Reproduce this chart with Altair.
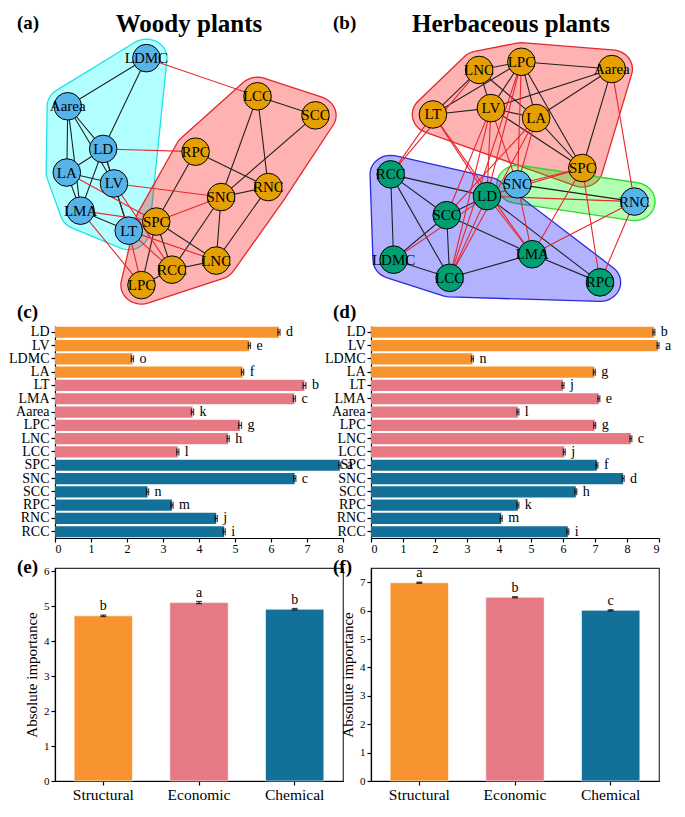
import math
import altair as alt
import pandas as pd

SERIF = "Liberation Serif"

# ---------------- network (a) woody plants ----------------
a_nodes = ["LDMC", "Aarea", "LD", "LA", "LV", "LMA", "LT", "SPC",
           "LCC", "SCC", "RPC", "SNC", "RNC", "LNC", "RCC", "LPC"]
a_x = [137, 57, 93, 56, 104, 70, 119, 147, 250, 309, 187, 213, 261, 208, 163, 132]
a_y = [50, 103, 150, 176, 188, 218, 240, 230, 92, 113, 153, 203, 192, 273, 283, 300]
a_group = ["A", "A", "A", "A", "A", "A", "A", "B",
           "B", "B", "B", "B", "B", "B", "B", "B"]
a_pos = [("LDMC", "Aarea"), ("LDMC", "LD"), ("Aarea", "LD"), ("Aarea", "LA"), ("Aarea", "LV"),
         ("Aarea", "LMA"), ("LD", "LA"), ("LD", "LV"), ("LD", "LMA"), ("LD", "LT"),
         ("LA", "LV"), ("LA", "LMA"), ("LV", "LT"), ("LMA", "LT"),
         ("LCC", "SCC"), ("LCC", "SNC"), ("LCC", "RNC"), ("SCC", "SNC"), ("RPC", "RNC"),
         ("RPC", "SPC"), ("SNC", "RNC"), ("SNC", "LNC"), ("SNC", "RCC"), ("RNC", "LNC"),
         ("SPC", "RCC"), ("SPC", "LPC"), ("SPC", "LNC"), ("RCC", "LNC"), ("RCC", "LPC")]
a_neg = [("LDMC", "LCC"), ("LD", "RPC"), ("LV", "SNC"), ("LA", "SPC"), ("LV", "RCC"),
         ("LMA", "SPC"), ("LMA", "LPC"), ("LT", "LPC"), ("LT", "RCC"), ("LT", "LNC"),
         ("SPC", "SNC")]

# ---------------- network (b) herbaceous plants ----------------
b_nodes = ["LNC", "LPC", "Aarea", "LT", "LV", "LA", "SPC", "RCC",
           "SNC", "LD", "RNC", "SCC", "LDMC", "LMA", "LCC", "RPC"]
b_x = [490, 533, 625, 443, 502, 548, 595, 400, 529, 498, 648, 457, 403, 544, 460, 613]
b_y = [63, 54, 62, 112, 105, 116, 171, 178, 189, 202, 208, 223, 272, 266, 292, 297]
b_group = ["B", "B", "B", "B", "B", "B", "B", "C",
           "A", "C", "A", "C", "C", "C", "C", "C"]
b_pos = [("LNC", "LPC"), ("LNC", "LT"), ("LNC", "LV"), ("LNC", "LA"), ("LPC", "Aarea"),
         ("LPC", "LT"), ("LPC", "LV"), ("LPC", "LA"), ("LPC", "SPC"), ("LT", "LV"),
         ("LV", "LA"), ("LV", "Aarea"), ("LV", "SPC"), ("LA", "Aarea"), ("LA", "SPC"),
         ("Aarea", "SPC"), ("SNC", "RNC"), ("RCC", "LD"), ("RCC", "SCC"), ("RCC", "LDMC"),
         ("RCC", "LCC"), ("SCC", "LD"), ("SCC", "LCC"), ("SCC", "LMA"), ("SCC", "LDMC"),
         ("LDMC", "LCC"), ("LCC", "LMA"), ("LMA", "RPC"), ("LD", "RPC")]
b_neg = [("LT", "RCC"), ("LNC", "RCC"), ("LT", "LD"), ("LV", "SCC"), ("LV", "LD"),
         ("LV", "SNC"), ("LV", "LCC"), ("LPC", "SNC"), ("LPC", "LD"), ("LPC", "LCC"),
         ("LA", "SNC"), ("LA", "SCC"), ("LA", "LCC"), ("SPC", "SNC"), ("SPC", "LD"),
         ("SPC", "LMA"), ("SPC", "RPC"), ("Aarea", "RNC"), ("LD", "RNC"), ("SNC", "LMA"),
         ("RNC", "LMA"), ("RNC", "RPC"), ("LD", "LDMC"), ("LD", "LMA"), ("LD", "LCC"),
         ("LT", "LMA")]

# ---------------- trait importance (c), (d) ----------------
traits = ["LD", "LV", "LDMC", "LA", "LT", "LMA", "Aarea", "LPC", "LNC", "LCC",
          "SPC", "SNC", "SCC", "RPC", "RNC", "RCC"]
trait_type = ["Structural"] * 4 + ["Economic"] * 6 + ["Chemical"] * 6
c_values = [6.22, 5.40, 2.15, 5.21, 6.93, 6.65, 3.82, 5.14, 4.81, 3.41,
            7.91, 6.66, 2.57, 3.25, 4.48, 4.70]
c_errs = [0.03, 0.03, 0.03, 0.03, 0.04, 0.03, 0.03, 0.04, 0.03, 0.03,
          0.03, 0.03, 0.03, 0.03, 0.03, 0.03]
c_letters = ["d", "e", "o", "f", "b", "c", "k", "g", "h", "l", "a", "c", "n", "m", "j", "i"]
d_values = [8.84, 8.97, 3.17, 6.98, 6.00, 7.12, 4.59, 6.99, 8.12, 6.04,
            7.06, 7.88, 6.40, 4.59, 4.07, 6.15]
d_errs = [0.03, 0.03, 0.03, 0.03, 0.03, 0.03, 0.03, 0.03, 0.03, 0.03,
          0.03, 0.03, 0.03, 0.03, 0.03, 0.03]
d_letters = ["b", "a", "n", "g", "j", "e", "l", "g", "c", "j", "f", "d", "h", "k", "m", "i"]

# ---------------- absolute importance (e), (f) ----------------
types = ["Structural", "Economic", "Chemical"]
e_values = [4.73, 5.11, 4.92]
e_errs = [0.02, 0.03, 0.02]
e_letters = ["b", "a", "b"]
f_values = [6.98, 6.47, 6.01]
f_errs = [0.02, 0.02, 0.02]
f_letters = ["a", "b", "c"]

# ---------------- styles ----------------
type_color = {"Structural": "#F7942F", "Economic": "#E57984", "Chemical": "#127099"}
edge_color = {"pos": "#222222", "neg": "#E8262A"}
node_fill = {"A": "#56B4E9", "B": "#E69F00", "C": "#009E73"}
hull_style_a = {"A": ("#00FFFF", "#1FE3E6"), "B": ("#FF0000", "#E5272B")}
hull_style_b = {"B": ("#FF0000", "#E5272B"), "A": ("#00FF00", "#2FD92F"), "C": ("#0000FF", "#2A2ADB")}
PANEL_W = 288
NET_H = 256
BAR_H = 212
COL_H = 213


def convex_hull(pts):
    pts = sorted(set(pts))

    def cross(o, a, b):
        return (a[0] - o[0]) * (b[1] - o[1]) - (a[1] - o[1]) * (b[0] - o[0])
    lower = []
    for p in pts:
        while len(lower) >= 2 and cross(lower[-2], lower[-1], p) <= 0:
            lower.pop()
        lower.append(p)
    upper = []
    for p in reversed(pts):
        while len(upper) >= 2 and cross(upper[-2], upper[-1], p) <= 0:
            upper.pop()
        upper.append(p)
    h = lower[:-1] + upper[:-1]
    return h + [h[0]]


def hull_df(xs, ys, r=21, n=40):
    pts = []
    for x, y in zip(xs, ys):
        for k in range(n):
            t = 2 * math.pi * k / n
            pts.append((round(x + r * math.cos(t), 3), round(y + r * math.sin(t), 3)))
    h = convex_hull(pts)
    return pd.DataFrame({"x": [p[0] for p in h], "y": [p[1] for p in h], "i": list(range(len(h)))})


def network(nodes, xs, ys, groups, pos, neg, hull_style, xdom, ydom, title, tag, title_x):
    xs_ = alt.Scale(domain=xdom, nice=False, zero=False)
    ys_ = alt.Scale(domain=ydom, nice=False, zero=False, reverse=True)
    X = lambda f: alt.X(f, scale=xs_, axis=None)
    Y = lambda f: alt.Y(f, scale=ys_, axis=None)
    ndf = pd.DataFrame({"node": nodes, "x": xs, "y": ys, "grp": groups})
    ndf["fill"] = ndf["grp"].map(node_fill)
    look = {n: (x, y) for n, x, y in zip(nodes, xs, ys)}
    rows = []
    for kind, lst in (("pos", pos), ("neg", neg)):
        for s, t in lst:
            rows.append({"x": look[s][0], "y": look[s][1], "x2": look[t][0], "y2": look[t][1],
                         "col": edge_color[kind]})
    edf = pd.DataFrame(rows)
    layers = []
    for g, (fill, stroke) in hull_style.items():
        sel = [i for i, gg in enumerate(groups) if gg == g]
        hd = hull_df([xs[i] for i in sel], [ys[i] for i in sel])
        layers.append(alt.Chart(hd).mark_line(fill=fill, fillOpacity=0.3, stroke=stroke,
                                              strokeWidth=1.3, strokeOpacity=1).encode(
            x=X("x:Q"), y=Y("y:Q"), order=alt.Order("i:Q")))
    layers.append(alt.Chart(edf).mark_rule(strokeWidth=1.1).encode(
        x=X("x:Q"), y=Y("y:Q"), x2="x2:Q", y2="y2:Q",
        stroke=alt.Stroke("col:N", scale=None)))
    layers.append(alt.Chart(ndf).mark_circle(size=760, opacity=1, stroke="black", strokeWidth=1).encode(
        x=X("x:Q"), y=Y("y:Q"), fill=alt.Fill("fill:N", scale=None)))
    layers.append(alt.Chart(ndf).mark_text(font=SERIF, fontSize=15, color="black").encode(
        x=X("x:Q"), y=Y("y:Q"), text="node:N"))
    layers.append(alt.Chart(pd.DataFrame({"t": [title]})).mark_text(
        font=SERIF, fontSize=25, fontWeight="bold", baseline="top", align="center", color="black").encode(
        text="t:N", x=alt.value(title_x), y=alt.value(-28)))
    layers.append(alt.Chart(pd.DataFrame({"t": [tag]})).mark_text(
        font=SERIF, fontSize=19, fontWeight="bold", baseline="top", align="left", color="black").encode(
        text="t:N", x=alt.value(-38), y=alt.value(-26)))
    return alt.layer(*layers).properties(width=PANEL_W, height=NET_H)


def trait_panel(values, errs, letters, xmax, tag):
    df = pd.DataFrame({"trait": traits, "value": values, "err": errs, "letter": letters, "type": trait_type})
    df["lo"] = df["value"] - df["err"]
    df["hi"] = df["value"] + df["err"]
    df["col"] = df["type"].map(type_color)
    y = alt.Y("trait:N", sort=traits, scale=alt.Scale(paddingInner=0.16, paddingOuter=0.05),
              axis=alt.Axis(title=None, labelFontSize=14, tickSize=4, labelPadding=2))
    xs_ = alt.Scale(domain=[0, xmax], nice=False, zero=True)
    xax = alt.Axis(title=None, values=list(range(xmax + 1)), labelFontSize=12, tickSize=4,
                   labelPadding=1, labelOverlap=False)
    X = lambda f: alt.X(f, scale=xs_, axis=xax)
    base = alt.Chart(df)
    bars = base.mark_bar().encode(x=X("value:Q"), y=y, fill=alt.Fill("col:N", scale=None))
    err = base.mark_rule(color="black", strokeWidth=1).encode(x=X("lo:Q"), x2="hi:Q", y=y)
    cap_lo = base.mark_tick(color="black", thickness=1.3, size=7).encode(x=X("lo:Q"), y=y)
    cap_hi = base.mark_tick(color="black", thickness=1.3, size=7).encode(x=X("hi:Q"), y=y)
    txt = base.mark_text(font=SERIF, fontSize=14, align="left", baseline="middle", dx=6, color="black").encode(
        x=X("hi:Q"), y=y, text="letter:N")
    lab = alt.Chart(pd.DataFrame({"t": [tag]})).mark_text(
        font=SERIF, fontSize=19, fontWeight="bold", baseline="middle", align="left", color="black").encode(
        text="t:N", x=alt.value(-38), y=alt.value(-14))
    return alt.layer(bars, err, cap_lo, cap_hi, txt, lab).properties(width=PANEL_W, height=BAR_H)


def type_panel(values, errs, letters, ymax, tag):
    df = pd.DataFrame({"type": types, "value": values, "err": errs, "letter": letters})
    df["lo"] = df["value"] - df["err"]
    df["hi"] = df["value"] + df["err"]
    df["col"] = df["type"].map(type_color)
    x = alt.X("type:N", sort=types, scale=alt.Scale(paddingInner=0.39, paddingOuter=0.2),
              axis=alt.Axis(title=None, labelAngle=0, labelFontSize=15.5, tickSize=4, labelPadding=2))
    ys_ = alt.Scale(domain=[0, ymax], nice=False, zero=True)
    yax = alt.Axis(title="Absolute importance", values=list(range(int(ymax) + 1)),
                   labelFontSize=11, tickSize=4, labelPadding=2, labelOverlap=False,
                   titleFontSize=15, titleFontWeight="normal", titlePadding=4)
    Y = lambda f: alt.Y(f, scale=ys_, axis=yax)
    base = alt.Chart(df)
    bars = base.mark_bar(stroke="#ffffff", strokeWidth=0.6).encode(
        x=x, y=Y("value:Q"), fill=alt.Fill("col:N", scale=None))
    err = base.mark_rule(color="black", strokeWidth=1).encode(x=x, y=Y("lo:Q"), y2="hi:Q")
    cap_lo = base.mark_tick(color="black", thickness=1.3, size=6).encode(x=x, y=Y("lo:Q"))
    cap_hi = base.mark_tick(color="black", thickness=1.3, size=6).encode(x=x, y=Y("hi:Q"))
    txt = base.mark_text(font=SERIF, fontSize=14, align="center", baseline="bottom", dy=-2, color="black").encode(
        x=x, y=Y("hi:Q"), text="letter:N")
    lab = alt.Chart(pd.DataFrame({"t": [tag]})).mark_text(
        font=SERIF, fontSize=19, fontWeight="bold", baseline="middle", align="left", color="black").encode(
        text="t:N", x=alt.value(-38), y=alt.value(-1))
    return alt.layer(bars, err, cap_lo, cap_hi, txt, lab).properties(
        width=PANEL_W, height=COL_H, view=alt.ViewBackground(stroke="#333333", strokeWidth=1.2))


pa = network(a_nodes, a_x, a_y, a_group, a_pos, a_neg, hull_style_a, [44, 337], [30, 312],
             "Woody plants", "(a)", 134)
pb = network(b_nodes, b_x, b_y, b_group, b_pos, b_neg, hull_style_b, [380, 673], [30, 312],
             "Herbaceous plants", "(b)", 140)
pc = trait_panel(c_values, c_errs, c_letters, 8, "(c)")
pd_ = trait_panel(d_values, d_errs, d_letters, 9, "(d)")
pe = type_panel(e_values, e_errs, e_letters, 6.1, "(e)")
pf = type_panel(f_values, f_errs, f_letters, 7.5, "(f)")

chart = alt.concat(pa, pb, pc, pd_, pe, pf, columns=2, spacing={"row": 30, "column": 28},
                   bounds="flush", align="each").properties(
    padding={"top": 4, "left": 0, "right": 0, "bottom": 0}).configure_view(
    stroke=None).configure_axis(
    labelFont=SERIF, titleFont=SERIF, domainColor="black", tickColor="black",
    labelColor="black", titleColor="black", grid=False, domainWidth=1.2, tickWidth=1.2,
    labelOverlap=False)

chart.save("out.html", embed_options={"renderer": "svg", "actions": False})
